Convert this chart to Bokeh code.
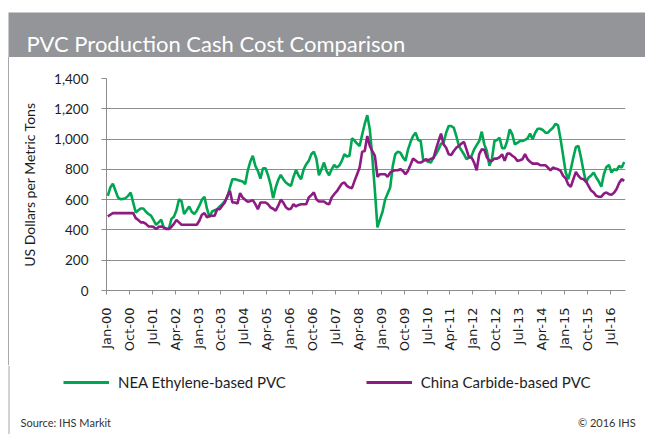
import math
from bokeh.plotting import figure
from bokeh.layouts import column, row
from bokeh.models import (Range1d, Label, BoxAnnotation, Legend, LegendItem,
                          FixedTicker, NumeralTickFormatter, Div)
from bokeh.embed import file_html
from bokeh.resources import INLINE

# ---------------- data ----------------
title_text = "PVC Production Cash Cost Comparison"
y_title = "US Dollars per Metric Tons"
series_names = ["NEA Ethylene-based PVC", "China Carbide-based PVC"]
source_text = "Source: IHS Markit"
copyright_text = "\u00a9 2016  IHS"

# monthly values, Jan-2000 .. Dec-2016 (USD per metric ton)
nea_ethylene = [
    625, 680, 706, 660, 615, 603, 605, 610, 625, 647,
    580, 515, 530, 542, 542, 520, 505, 494, 465, 434,
    450, 467, 417, 410, 406, 472, 487, 530, 603, 590,
    505, 530, 555, 520, 505, 527, 560, 600, 619, 540,
    483, 522, 530, 537, 555, 570, 590, 615, 680, 735,
    735, 730, 725, 720, 702, 790, 850, 889, 823, 790,
    739, 807, 807, 760, 700, 610, 680, 730, 763, 735,
    713, 700, 691, 750, 796, 760, 735, 800, 834, 856,
    900, 917, 870, 761, 800, 845, 790, 761, 800, 829,
    812, 825, 856, 900, 885, 890, 1005, 990, 970, 954,
    1030, 1100, 1158, 1064, 878, 658, 417, 470, 520, 600,
    640, 680, 820, 900, 917, 910, 880, 856, 930, 980,
    1020, 1042, 994, 987, 860, 860, 850, 845, 878, 900,
    932, 970, 976, 1042, 1086, 1086, 1075, 1020, 954, 926,
    900, 867, 878, 889, 932, 960, 987, 1049, 965, 921,
    823, 867, 987, 994, 1009, 939, 939, 987, 1064, 1031,
    965, 975, 987, 987, 995, 1005, 1036, 998, 1042, 1068,
    1068, 1060, 1042, 1042, 1060, 1075, 1101, 1090, 998, 889,
    779, 735, 801, 878, 948, 954, 878, 790, 713, 746,
    760, 779, 746, 720, 685, 768, 816, 829, 779, 801,
    794, 823, 812, 849,
]

china_carbide = [
    489, 500, 511, 511, 511, 511, 511, 511, 511, 511,
    511, 478, 465, 450, 450, 440, 423, 423, 420, 406,
    420, 423, 415, 406, 406, 420, 440, 465, 450, 434,
    434, 434, 434, 434, 434, 434, 461, 500, 511, 483,
    494, 494, 494, 537, 537, 560, 581, 625, 658, 581,
    581, 575, 643, 614, 600, 586, 590, 597, 570, 537,
    581, 581, 581, 570, 548, 540, 527, 560, 600, 581,
    550, 537, 540, 570, 555, 565, 570, 570, 570, 614,
    630, 647, 603, 588, 588, 588, 575, 570, 614, 636,
    654, 680, 706, 713, 691, 680, 676, 724, 768, 812,
    917, 921, 1020, 954, 920, 889, 750, 768, 768, 768,
    750, 779, 790, 794, 794, 801, 790, 768, 790, 830,
    871, 858, 845, 845, 855, 867, 860, 870, 873, 932,
    987, 1036, 965, 943, 900, 895, 921, 943, 954, 970,
    981, 932, 878, 878, 845, 794, 900, 932, 930, 880,
    856, 856, 871, 871, 880, 900, 856, 904, 904, 890,
    878, 856, 860, 867, 900, 867, 850, 838, 838, 838,
    827, 827, 827, 812, 794, 812, 805, 800, 790, 757,
    740, 700, 685, 735, 783, 757, 739, 735, 720, 690,
    660, 647, 625, 619, 619, 640, 647, 636, 632, 645,
    670, 710, 735, 724,
]

tick_labels = ["Jan-00", "Oct-00", "Jul-01", "Apr-02", "Jan-03", "Oct-03",
               "Jul-04", "Apr-05", "Jan-06", "Oct-06", "Jul-07", "Apr-08",
               "Jan-09", "Oct-09", "Jul-10", "Apr-11", "Jan-12", "Oct-12",
               "Jul-13", "Apr-14", "Jan-15", "Oct-15", "Jul-16"]
tick_step_months = 9
y_ticks = [0, 200, 400, 600, 800, 1000, 1200, 1400]

# ---------------- styles ----------------
GREEN = "#00a651"
PURPLE = "#8e1b84"
GRID = "#8c8c8c"
BAR = "#939598"
EDGE = "#a8a8a8"
TXT = "#1e1e1e"
FONT = "Lato"
W = 645

def bare_fig(w, h):
    f = figure(width=w, height=h, output_backend="svg", toolbar_location=None,
               x_axis_location=None, y_axis_location=None,
               x_range=Range1d(0, 1), y_range=Range1d(0, 1), min_border=0)
    f.outline_line_color = None
    f.background_fill_color = "white"
    f.border_fill_color = "white"
    for g in f.grid:
        g.visible = False
    return f

# ---------------- title bar ----------------
title_fig = bare_fig(W, 57)
title_fig.add_layout(BoxAnnotation(left=8, right=W, bottom=0, top=45,
                                   left_units="screen", right_units="screen",
                                   bottom_units="screen", top_units="screen",
                                   fill_color=BAR, fill_alpha=1, line_color=None))
title_fig.add_layout(Label(x=26, y=14, x_units="screen", y_units="screen",
                           text=title_text, text_font=FONT, text_font_size="22px",
                           text_color="white", text_baseline="alphabetic"))

# ---------------- main chart ----------------
n = len(nea_ethylene)
xs = [i + 0.5 for i in range(n)]

p = figure(width=636, height=308, output_backend="svg", toolbar_location=None,
           x_range=Range1d(0, n), y_range=Range1d(0, y_ticks[-1]),
           min_border_left=97, min_border_right=20, min_border_top=21,
           min_border_bottom=75)
p.outline_line_color = None
p.background_fill_color = "white"
p.border_fill_color = "white"

r1 = p.line(xs, nea_ethylene, line_color=GREEN, line_width=2.6)
r2 = p.line(xs, china_carbide, line_color=PURPLE, line_width=2.6)

p.yaxis.ticker = FixedTicker(ticks=y_ticks)
p.yaxis.formatter = NumeralTickFormatter(format="0,0")
p.yaxis.axis_label = y_title
p.yaxis.axis_label_text_font = FONT
p.yaxis.axis_label_text_font_size = "14px"
p.yaxis.axis_label_text_font_style = "normal"
p.yaxis.axis_label_text_color = TXT
p.yaxis.axis_label_standoff = 13
p.yaxis.major_label_text_font = FONT
p.yaxis.major_label_text_font_size = "13.5px"
p.yaxis.major_label_text_color = TXT
p.yaxis.major_label_standoff = 13
p.yaxis.major_tick_out = 5
p.yaxis.major_tick_in = 0
p.yaxis.minor_tick_out = 0
p.yaxis.minor_tick_in = 0
p.yaxis.axis_line_color = GRID
p.yaxis.major_tick_line_color = GRID

tick_pos = [i * tick_step_months for i in range(len(tick_labels))]
p.xaxis.ticker = FixedTicker(ticks=tick_pos)
p.xaxis.major_label_overrides = {pos: lab for pos, lab in zip(tick_pos, tick_labels)}
p.xaxis.major_label_orientation = math.pi / 2
p.xaxis.major_label_text_font = "DejaVu Sans"
p.xaxis.major_label_text_font_size = "13px"
p.xaxis.major_label_text_color = TXT
p.xaxis.major_label_standoff = 13
p.xaxis.major_tick_out = 4
p.xaxis.major_tick_in = 0
p.xaxis.minor_tick_out = 0
p.xaxis.minor_tick_in = 0
p.xaxis.axis_line_color = GRID
p.xaxis.major_tick_line_color = GRID

p.xgrid.grid_line_color = None
p.ygrid.grid_line_color = GRID
p.ygrid.grid_line_width = 1

spacer = Div(text="", width=8, height=308, margin=0)
edge = Div(text="", width=1, height=308, margin=0,
           styles={"background-color": EDGE})

# ---------------- legend + footer ----------------
# the key lines reuse the series; this panel's ranges keep them out of view
foot = bare_fig(W, 69)
foot.y_range = Range1d(-2, -1)
foot.add_layout(BoxAnnotation(left=8, right=9, bottom=0, top=69,
                              left_units="screen", right_units="screen",
                              bottom_units="screen", top_units="screen",
                              fill_color=EDGE, fill_alpha=1, line_color=None))
k1 = foot.line(xs, nea_ethylene, line_color=GREEN, line_width=3)
k2 = foot.line(xs, china_carbide, line_color=PURPLE, line_width=3)
legend = Legend(items=[LegendItem(label=series_names[0], renderers=[k1]),
                       LegendItem(label=series_names[1], renderers=[k2])],
                orientation="horizontal", location=(63, 42),
                glyph_width=46, glyph_height=20, label_height=20,
                label_standoff=9, spacing=80, padding=0, margin=0,
                border_line_color=None, background_fill_alpha=0,
                label_text_font=FONT, label_text_font_size="15px",
                label_text_color=TXT)
foot.add_layout(legend)
foot.add_layout(Label(x=20, y=12, x_units="screen", y_units="screen",
                      text=source_text, text_font=FONT, text_font_size="11px",
                      text_color="#333333", text_baseline="middle"))
foot.add_layout(Label(x=638, y=12, x_units="screen", y_units="screen",
                      text=copyright_text, text_font=FONT, text_font_size="11px",
                      text_color="#333333", text_baseline="middle", text_align="right"))

layout = column(title_fig, row(spacer, edge, p, spacing=0), foot, spacing=0)

open("out.html", "w").write(file_html(layout, INLINE))
